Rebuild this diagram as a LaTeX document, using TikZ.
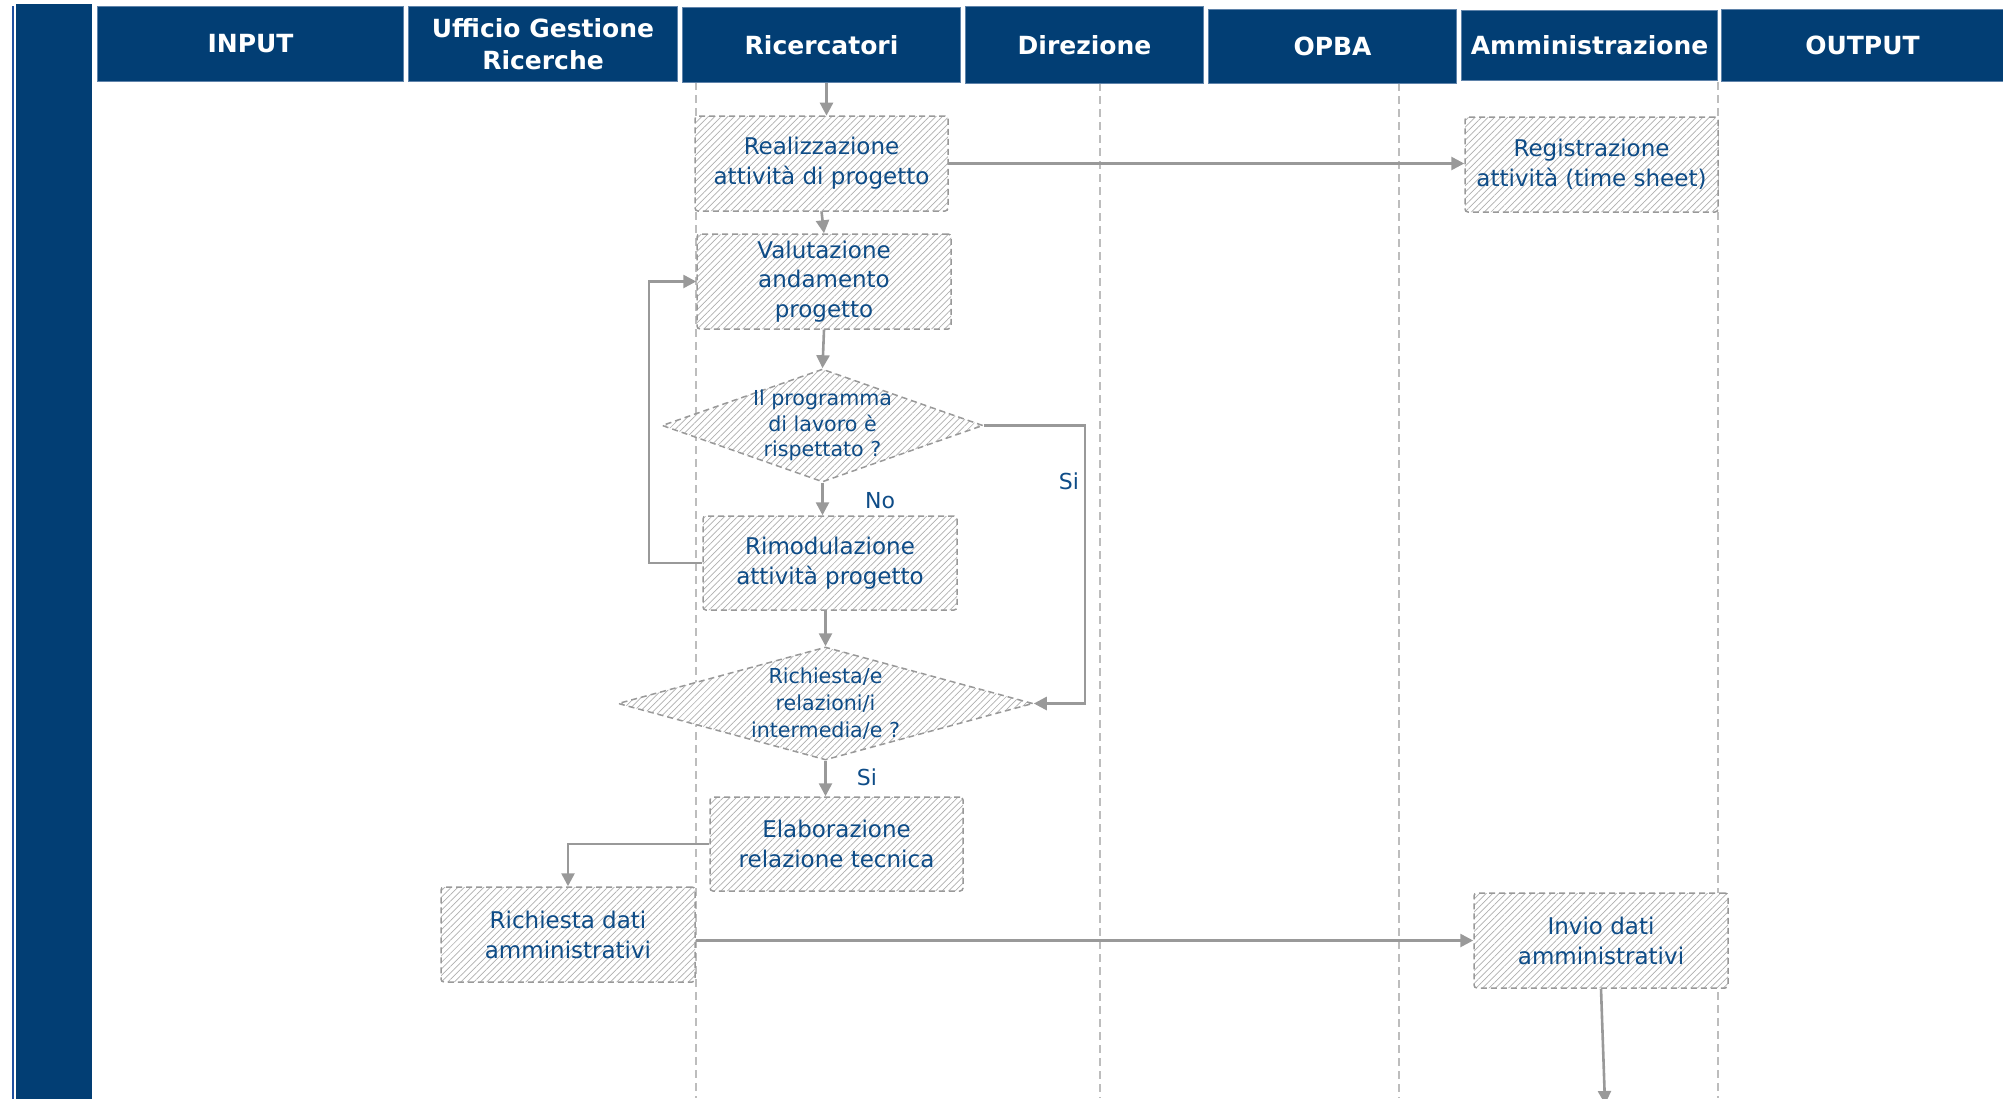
\documentclass[tikz,border=0pt]{standalone}
\usepackage{fontspec}
\setmainfont{DejaVu Sans}
\usetikzlibrary{arrows.meta,patterns.meta,shapes.geometric}
\definecolor{hdr}{HTML}{023E74}
\definecolor{hdredge}{HTML}{5F83AA}
\definecolor{barline}{HTML}{2050A0}
\definecolor{txt}{HTML}{0E4C87}
\definecolor{ln}{HTML}{999999}
\definecolor{lane}{HTML}{BDBDBD}
\definecolor{hatch}{HTML}{AFAFAF}
\tikzset{
  header/.style={fill=hdr, draw=hdredge, line width=0.5pt, text=white,
    font=\bfseries\fontsize{12.5}{16}\selectfont, align=center, inner sep=0pt, anchor=north west},
  hatched/.style={draw=ln, dash pattern=on 3pt off 2pt, line width=0.75pt,
    preaction={fill=white}, pattern={Lines[angle=45,distance=2.3pt,line width=0.35pt]},
    pattern color=hatch},
  procbox/.style={hatched, rounded corners=1.5pt, text=txt,
    font=\fontsize{11.5}{15}\selectfont, align=center, inner sep=0pt},
  decision/.style={hatched, shape=diamond, inner sep=0pt},
  dtext/.style={text=txt, font=\fontsize{10.3}{13}\selectfont, align=center, inner sep=0pt},
  lbl/.style={text=txt, font=\fontsize{11}{13}\selectfont, inner sep=0pt},
  arr/.style={draw=ln, line width=1.3pt, -{Triangle[length=6.5pt,width=6.5pt]}},
  laneline/.style={draw=lane, line width=0.75pt, dash pattern=on 4pt off 2.5pt},
}
\begin{document}
\begin{tikzpicture}[x=0.5pt,y=-0.5pt]
\useasboundingbox (0,0) rectangle (2003,1098);
\clip (0,0) rectangle (2003,1098);
% left bar
\fill[hdr] (16,4) rectangle (92,1110);
\draw[barline, line width=0.75pt] (13,6) -- (13,1110);
% lanes
\draw[laneline] (696,82) -- (696,1098);
\draw[laneline] (1100,83) -- (1100,1098);
\draw[laneline] (1399,83) -- (1399,1098);
\draw[laneline] (1718,82) -- (1718,1098);
% headers
\node[header, minimum width=153pt, minimum height=37.5pt] (hin) at (97,6) {INPUT};
\node[header, minimum width=134.5pt, minimum height=37.5pt] (hugr) at (408,6) {Ufficio Gestione\\Ricerche};
\node[header, minimum width=139pt, minimum height=37.5pt] (hric) at (682,7) {Ricercatori};
\node[header, minimum width=119pt, minimum height=38.5pt] (hdir) at (965,6) {Direzione};
\node[header, minimum width=124pt, minimum height=37pt] (hopba) at (1208,9) {OPBA};
\node[header, minimum width=128pt, minimum height=35pt] (hamm) at (1461,10) {Amministrazione};
\node[header, minimum width=141pt, minimum height=36pt] (hout) at (1721,9) {OUTPUT};
% process boxes
\node[procbox, minimum width=126.5pt, minimum height=47.5pt] (real) at (821.5,163.5) {Realizzazione\\attività di progetto};
\node[procbox, minimum width=127pt, minimum height=47.5pt, font=\fontsize{11.5}{14.75}\selectfont] (valu) at (824,281.5) {Valutazione\\andamento\\progetto};
\node[decision, minimum width=160.5pt, minimum height=56.5pt] (d1) at (822.5,425.5) {};
\node[dtext, font=\fontsize{10.3}{12.75}\selectfont] (d1t) at (d1.center) {Il programma\\di lavoro è\\rispettato ?};
\node[procbox, minimum width=127pt, minimum height=47pt] (rimo) at (830,563) {Rimodulazione\\attività progetto};
\node[decision, minimum width=207.5pt, minimum height=56.5pt] (d2) at (825.5,703.5) {};
\node[dtext, font=\fontsize{10.3}{13.5}\selectfont] (d2t) at (d2.center) {Richiesta/e\\relazioni/i\\intermedia/e ?};
\node[procbox, minimum width=126.5pt, minimum height=47pt] (elab) at (836.5,844) {Elaborazione\\relazione tecnica};
\node[procbox, minimum width=127pt, minimum height=47.5pt] (rich) at (568,934.5) {Richiesta dati\\amministrativi};
\node[procbox, minimum width=126.5pt, minimum height=47.5pt] (regi) at (1591.5,164.5) {Registrazione\\attività (time sheet)};
\node[procbox, minimum width=127pt, minimum height=47.5pt] (invi) at (1601,940.5) {Invio dati\\amministrativi};
% labels
\node[lbl] (lno) at (880,501) {No};
\node[lbl] (lsi1) at (1069,481) {Si};
\node[lbl] (lsi2) at (867,777) {Si};
% helper coordinates
\coordinate (cl) at (649,563);
\coordinate (cr) at (1085,425);
\coordinate (outend) at (1605,1104);
% connectors
\draw[arr] ([xshift=2.5pt]hric.south) -- ([xshift=2.5pt]hric.south |- real.north);
\draw[arr] (real.south) -- (valu.north);
\draw[arr] (valu.south) -- (d1.north);
\draw[arr] (d1.south) -- (d1.south |- rimo.north);
\draw[arr] (d2.north |- rimo.south) -- (d2.north);
\draw[arr] (d2.south) -- (d2.south |- elab.north);
\draw[arr] (rimo.west) -- (rimo.west -| cl) -- (valu.west -| cl) -- (valu.west);
\draw[arr] (d1.east) -- (d1.east -| cr) -- (d2.east -| cr) -- (d2.east);
\draw[arr] (real.east) -- (real.east -| regi.west);
\draw[arr] (elab.west) -| (rich.north);
\draw[arr] (invi.west -| rich.east) -- (invi.west);
\draw[arr] (invi.south) -- (outend);
\end{tikzpicture}
\end{document}
